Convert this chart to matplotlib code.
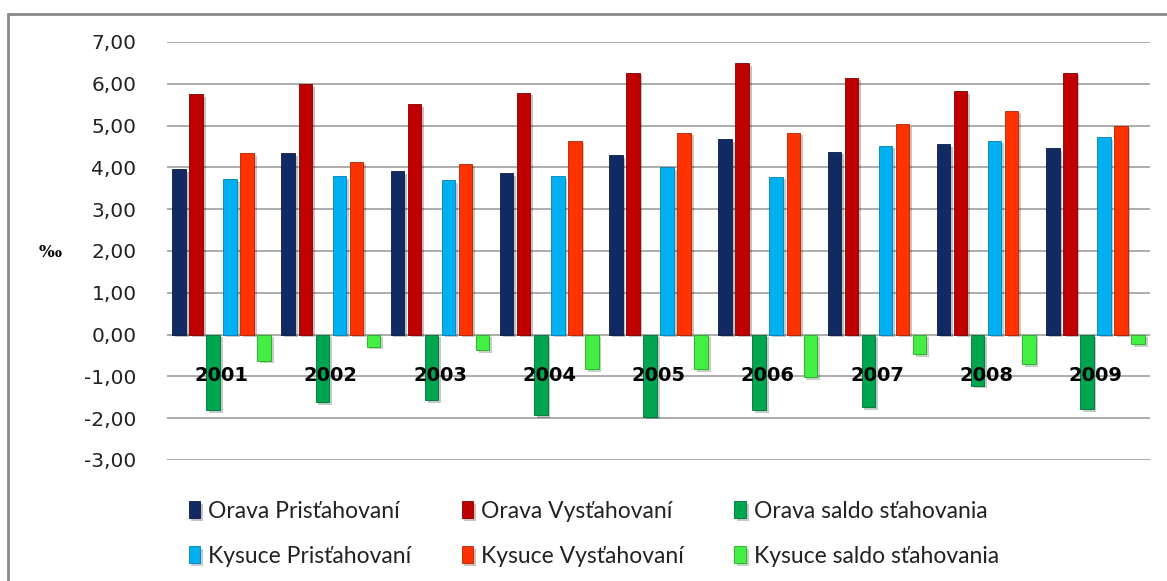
import numpy as np
import matplotlib
matplotlib.use('Agg')
import matplotlib.pyplot as plt
import matplotlib.patheffects as pe
from matplotlib.patches import Rectangle

years = ['2001', '2002', '2003', '2004', '2005', '2006', '2007', '2008', '2009']

orava_pris = [3.95, 4.35, 3.92, 3.86, 4.30, 4.67, 4.38, 4.55, 4.47]
orava_vys = [5.76, 5.99, 5.52, 5.79, 6.27, 6.50, 6.15, 5.82, 6.27]
orava_saldo = [-1.81, -1.62, -1.57, -1.92, -1.96, -1.81, -1.74, -1.22, -1.78]
kysuce_pris = [3.72, 3.80, 3.69, 3.80, 4.01, 3.78, 4.52, 4.64, 4.72]
kysuce_vys = [4.34, 4.14, 4.09, 4.64, 4.83, 4.83, 5.03, 5.36, 5.00]
kysuce_saldo = [-0.62, -0.29, -0.38, -0.82, -0.82, -1.02, -0.46, -0.70, -0.22]

series = [
    ('Orava Prisťahovaní', orava_pris, '#112a63', '#0a1a40'),
    ('Orava Vysťahovaní', orava_vys, '#c00000', '#800000'),
    ('Orava saldo sťahovania', orava_saldo, '#00a550', '#007035'),
    ('Kysuce Prisťahovaní', kysuce_pris, '#00b0f0', '#0080b0'),
    ('Kysuce Vysťahovaní', kysuce_vys, '#ff3300', '#b02200'),
    ('Kysuce saldo sťahovania', kysuce_saldo, '#44ee44', '#22aa22'),
]

fig = plt.figure(figsize=(11.67, 5.81), dpi=100)
ax = fig.add_axes([167 / 1167, 1 - 460 / 581, 983 / 1167, 418 / 581])

x = np.arange(len(years))
pitch = 0.156
width = 0.124
handles = []
for i, (name, vals, col, edge) in enumerate(series):
    bars = ax.bar(x + (i - 2.5) * pitch, vals, width, color=col, edgecolor=edge,
                  linewidth=0.6, label=name, zorder=3)
    for b in bars:
        b.set_path_effects([pe.SimplePatchShadow(offset=(2, -2), alpha=0.25), pe.Normal()])
    handles.append(bars)

ax.set_xlim(-0.5, len(years) - 0.5)
ax.set_ylim(-3, 7)
ax.set_yticks(np.arange(-3, 8, 1))
ax.set_yticklabels([f'{v:.2f}'.replace('.', ',') for v in np.arange(-3, 8, 1)],
                   fontsize=14.5, color='#222222')
ax.tick_params(axis='y', length=0, pad=22)
ax.set_xticks([])
ax.grid(axis='y', color='#a6a6a6', linewidth=1.3, zorder=0)
ax.set_axisbelow(True)
for s in ax.spines.values():
    s.set_visible(False)

for xi, yr in zip(x, years):
    ax.text(xi, -0.98, yr, ha='center', va='center', fontsize=14,
            fontweight='bold', color='black', zorder=5)

fig.text(50 / 1167, 1 - 253 / 581, '‰', fontsize=12, family='DejaVu Serif',
         fontweight='bold', ha='center', va='center')

# frame around the chart
fig.patches.append(Rectangle((8 / 1167, -0.1), 1.2, 1 - 14 / 581 + 0.1,
                             transform=fig.transFigure, fill=False,
                             edgecolor='#888888', linewidth=2))

order = [0, 3, 1, 4, 2, 5]
leg = fig.legend([handles[i] for i in order], [series[i][0] for i in order],
                 ncol=3, loc='upper left', bbox_to_anchor=(168 / 1167, 1 - 480 / 581),
                 frameon=False, prop={'family': 'Lato', 'size': 16.5},
                 handlelength=0.5, handleheight=0.8, handletextpad=0.35,
                 columnspacing=2.2, labelspacing=1.05)
for t in leg.get_texts():
    t.set_color('#222222')

fig.savefig('out.png', dpi=100)
